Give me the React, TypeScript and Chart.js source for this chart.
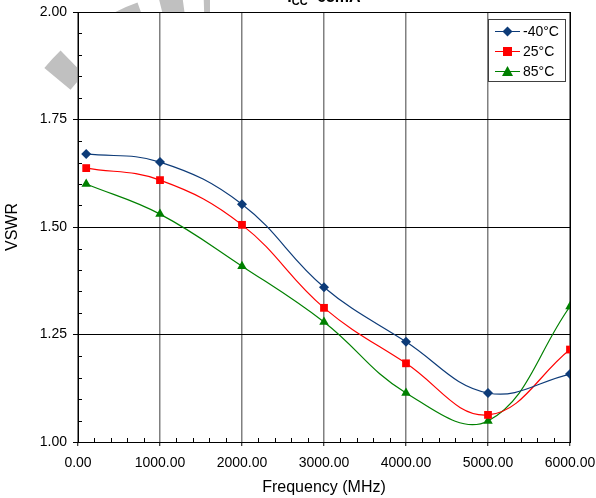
import React, { useEffect, useRef } from "react";
import { Chart, registerables } from "chart.js";

Chart.register(...registerables);

const freqs = [100, 1000, 2000, 3000, 4000, 5000, 6000];
const vswrM40 = [1.670, 1.651, 1.553, 1.360, 1.233, 1.114, 1.158];
const vswr25 = [1.637, 1.609, 1.505, 1.312, 1.183, 1.063, 1.215];
const vswr85 = [1.600, 1.530, 1.409, 1.279, 1.114, 1.049, 1.315];
const seriesLabels = ["-40°C", "25°C", "85°C"];
const seriesColors = ["#0d3b78", "#ff0000", "#008000"];
const seriesMarkers = ["rectRot", "rect", "triangle"];
const xTicks = [0, 1000, 2000, 3000, 4000, 5000, 6000];
const yTicks = [1.0, 1.25, 1.5, 1.75, 2.0];

const FONT = "'Liberation Sans', Arial, sans-serif";

function drawMarker(ctx: CanvasRenderingContext2D, kind: string, x: number, y: number, color: string) {
  ctx.save();
  ctx.fillStyle = color;
  ctx.beginPath();
  if (kind === "rectRot") {
    const r = 5;
    ctx.moveTo(x, y - r);
    ctx.lineTo(x + r, y);
    ctx.lineTo(x, y + r);
    ctx.lineTo(x - r, y);
  } else if (kind === "rect") {
    const r = 4.5;
    ctx.rect(x - r, y - r, 2 * r, 2 * r);
  } else {
    const r = 5.5;
    ctx.moveTo(x, y - r);
    ctx.lineTo(x + r, y + r * 0.8);
    ctx.lineTo(x - r, y + r * 0.8);
  }
  ctx.closePath();
  ctx.fill();
  ctx.restore();
}

const decoPlugin = {
  id: "deco",
  beforeDraw(chart: any) {
    const ctx = chart.ctx as CanvasRenderingContext2D;
    const { left, top, right, bottom } = chart.chartArea;
    ctx.save();
    ctx.fillStyle = "#ffffff";
    ctx.fillRect(0, 0, chart.width, chart.height);
    // watermark
    ctx.strokeStyle = "#c0c0c0";
    ctx.lineWidth = 34;
    ctx.setLineDash([22, 20]);
    ctx.beginPath();
    ctx.arc(210, 205, 198, Math.PI * 1.22, Math.PI * 1.5);
    ctx.stroke();
    ctx.setLineDash([]);
    ctx.fillStyle = "#ffffff";
    ctx.fillRect(left, top, right - left, bottom - top);
    // title (cut off at top)
    ctx.fillStyle = "#000";
    ctx.textBaseline = "alphabetic";
    const t1 = "I";
    const sub = "CC";
    const t2 = "=65mA";
    ctx.font = `bold 16px ${FONT}`;
    const w1 = ctx.measureText(t1).width;
    const w3 = ctx.measureText(t2).width;
    ctx.font = `bold 11px ${FONT}`;
    const w2 = ctx.measureText(sub).width;
    const total = w1 + w2 + w3;
    let x = (left + right) / 2 - total / 2;
    ctx.font = `bold 16px ${FONT}`;
    ctx.fillText(t1, x, 2);
    x += w1;
    ctx.font = `bold 11px ${FONT}`;
    ctx.fillText(sub, x, 5);
    x += w2;
    ctx.font = `bold 16px ${FONT}`;
    ctx.fillText(t2, x, 2);
    ctx.restore();
  },
  afterDatasetsDraw(chart: any) {
    const ctx = chart.ctx as CanvasRenderingContext2D;
    const { left, top, right, bottom } = chart.chartArea;
    const xs = chart.scales.x;
    const ys = chart.scales.y;
    ctx.save();
    ctx.strokeStyle = "#000";
    ctx.lineWidth = 1;
    // minor ticks
    ctx.beginPath();
    for (let v = 200; v < 6000; v += 200) {
      if (v % 1000 === 0) continue;
      const px = Math.round(xs.getPixelForValue(v)) + 0.5;
      ctx.moveTo(px, bottom);
      ctx.lineTo(px, bottom - 4);
    }
    for (let i = 1; i < 20; i++) {
      if (i % 5 === 0) continue;
      const v = 1 + i * 0.05;
      const py = Math.round(ys.getPixelForValue(v)) + 0.5;
      ctx.moveTo(left, py);
      ctx.lineTo(left + 4, py);
    }
    ctx.stroke();
    // frame
    ctx.strokeRect(Math.round(left) + 0.5, Math.round(top) + 0.5, Math.round(right - left), Math.round(bottom - top));
    // legend
    const lx = 488, ly = 19, lw = 77, lh = 62;
    ctx.fillStyle = "#ffffff";
    ctx.fillRect(lx, ly, lw, lh);
    ctx.strokeStyle = "#404040";
    ctx.strokeRect(lx + 0.5, ly + 0.5, lw, lh);
    ctx.font = `14px ${FONT}`;
    ctx.textBaseline = "middle";
    for (let i = 0; i < 3; i++) {
      const yy = 31 + i * 20;
      ctx.strokeStyle = seriesColors[i];
      ctx.lineWidth = 1;
      ctx.beginPath();
      ctx.moveTo(495, yy + 0.5);
      ctx.lineTo(520, yy + 0.5);
      ctx.stroke();
      drawMarker(ctx, seriesMarkers[i], 507.5, yy + 0.5, seriesColors[i]);
      ctx.fillStyle = "#000";
      ctx.fillText(seriesLabels[i], 523, yy + 1);
    }
    ctx.restore();
  },
};

export default function App() {
  const ref = useRef<HTMLCanvasElement | null>(null);
  useEffect(() => {
    document.body.style.margin = "0";
    const canvas = ref.current;
    if (!canvas) return;
    const mk = (vals: number[]) => freqs.map((f, i) => ({ x: f, y: vals[i] }));
    const allVals = [vswrM40, vswr25, vswr85];
    const chart = new Chart(canvas, {
      type: "line",
      data: {
        datasets: allVals.map((vals, i) => ({
          label: seriesLabels[i],
          data: mk(vals),
          borderColor: seriesColors[i],
          backgroundColor: seriesColors[i],
          borderWidth: 1.2,
          pointStyle: seriesMarkers[i] as any,
          pointRadius: i === 0 ? 5 : 5.5,
          pointBorderWidth: 0,
          pointBackgroundColor: seriesColors[i],
          pointBorderColor: seriesColors[i],
          tension: 0.4,
          fill: false,
        })),
      },
      options: {
        animation: false,
        responsive: false,
        maintainAspectRatio: false,
        layout: { padding: { top: 12, right: 26, left: 0, bottom: 0 } },
        plugins: {
          legend: { display: false },
          tooltip: { enabled: false },
          title: { display: false },
        },
        scales: {
          x: {
            type: "linear",
            min: 0,
            max: 6000,
            afterBuildTicks: (s: any) => {
              s.ticks = xTicks.map((v) => ({ value: v }));
            },
            afterFit: (s: any) => {
              s.height = 56;
              s.paddingLeft = 0;
              s.paddingRight = 0;
              s.paddingTop = 0;
              s.paddingBottom = 0;
            },
            ticks: {
              color: "#000",
              font: { family: FONT, size: 14 },
              padding: 9,
              maxRotation: 0,
              autoSkip: false,
              callback: (v: any) => Number(v).toFixed(2),
            },
            grid: {
              color: "#808080",
              lineWidth: 1.5,
              tickLength: 4,
              tickColor: "#000",
              tickWidth: 1,
            },
            border: { color: "#000", width: 1 },
            title: {
              display: true,
              text: "Frequency (MHz)",
              color: "#000",
              font: { family: FONT, size: 16 },
              padding: { top: 0, bottom: 1 },
            },
          },
          y: {
            type: "linear",
            min: 1,
            max: 2,
            afterBuildTicks: (s: any) => {
              s.ticks = yTicks.map((v) => ({ value: v }));
            },
            afterFit: (s: any) => {
              s.width = 78;
              s.paddingLeft = 0;
              s.paddingRight = 0;
              s.paddingTop = 0;
              s.paddingBottom = 0;
            },
            ticks: {
              color: "#000",
              font: { family: FONT, size: 14 },
              padding: 6,
              autoSkip: false,
              callback: (v: any) => Number(v).toFixed(2),
            },
            grid: {
              color: "#000",
              lineWidth: 1,
              tickLength: 5,
              tickColor: "#000",
            },
            border: { color: "#000", width: 1 },
            title: {
              display: true,
              text: "VSWR",
              color: "#000",
              font: { family: FONT, size: 16 },
              padding: { top: 3, bottom: 0 },
            },
          },
        },
      },
      plugins: [decoPlugin],
    });
    return () => chart.destroy();
  }, []);
  return (
    <div style={{ width: 596, height: 498 }}>
      <canvas ref={ref} width={596} height={498} style={{ display: "block", width: 596, height: 498 }} />
    </div>
  );
}
